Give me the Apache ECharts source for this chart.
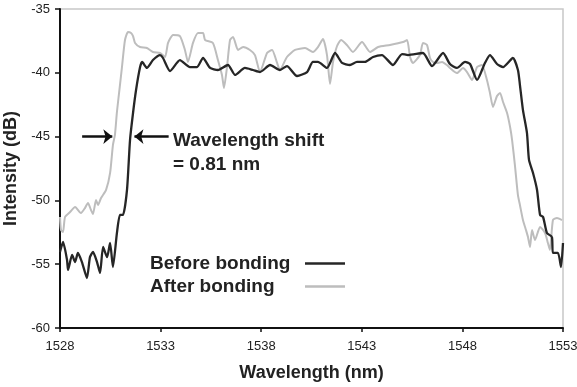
<!DOCTYPE html>
<html>
<head>
<meta charset="utf-8">
<script src="https://cdn.jsdelivr.net/npm/echarts@6/dist/echarts.min.js"></script>
<style>html,body{margin:0;padding:0;background:#fff}#c{width:577px;height:387px}</style>
</head>
<body>
<div id="c"></div>
<script>
// ---- data (wavelength in nm, intensity in dB) ----
const xStart = 1528;
const xTickLabels = ['1528', '1533', '1538', '1543', '1548', '1553'];
const yTickLabels = ['-60', '-55', '-50', '-45', '-40', '-35'];

const wlBefore = [1528.00,1528.15,1528.35,1528.40,1528.60,1528.75,1528.89,1529.09,1529.34,1529.49,1529.64,1529.84,1529.99,1530.14,1530.34,1530.49,1530.63,1530.83,1530.98,1531.13,1531.33,1531.48,1531.63,1531.78,1531.98,1532.08,1532.32,1532.62,1532.97,1533.12,1533.47,1533.96,1534.46,1534.81,1535.11,1535.46,1535.85,1536.35,1536.70,1537.19,1537.59,1537.94,1538.44,1538.93,1539.28,1539.78,1540.28,1540.57,1540.82,1541.27,1541.67,1542.02,1542.41,1542.76,1543.16,1543.56,1544.00,1544.55,1545.00,1545.30,1546.04,1546.49,1547.04,1547.38,1547.73,1548.13,1548.38,1548.73,1549.12,1549.37,1549.72,1550.02,1550.51,1550.76,1550.86,1551.01,1551.21,1551.31,1551.51,1551.71,1551.86,1552.01,1552.20,1552.45,1552.50,1552.75,1552.90,1553.00];
const dbBefore = [-54.04,-53.26,-54.67,-55.45,-54.28,-54.83,-54.12,-54.83,-56.08,-54.44,-54.04,-54.83,-55.69,-53.65,-54.44,-53.34,-55.22,-52.55,-51.14,-51.14,-49.18,-45.27,-43.15,-41.35,-39.55,-39.15,-39.62,-39.00,-38.61,-38.84,-39.86,-39.00,-39.55,-39.55,-38.84,-39.62,-39.78,-39.39,-40.17,-39.62,-39.78,-39.94,-39.39,-39.78,-39.47,-40.25,-39.94,-39.15,-39.15,-39.62,-38.45,-39.23,-39.39,-39.15,-39.15,-38.76,-38.61,-39.39,-38.53,-38.61,-38.45,-39.47,-38.45,-39.31,-39.62,-39.15,-39.31,-40.56,-39.23,-38.61,-39.31,-39.55,-38.84,-39.78,-40.96,-42.92,-44.72,-46.83,-47.85,-49.18,-51.14,-51.30,-52.55,-52.87,-54.12,-54.12,-55.22,-53.34];

const wlAfter = [1528.00,1528.05,1528.15,1528.25,1528.50,1528.75,1529.04,1529.24,1529.39,1529.54,1529.64,1529.79,1529.89,1530.04,1530.29,1530.49,1530.63,1530.73,1530.83,1530.98,1531.08,1531.23,1531.38,1531.53,1531.63,1531.73,1531.98,1532.32,1532.62,1532.97,1533.22,1533.37,1533.62,1533.96,1534.21,1534.36,1534.61,1534.86,1535.11,1535.21,1535.60,1535.85,1536.05,1536.15,1536.30,1536.45,1536.60,1536.85,1537.10,1537.44,1537.69,1537.94,1538.29,1538.54,1538.79,1538.93,1539.28,1539.68,1540.18,1540.57,1540.82,1541.07,1541.27,1541.42,1541.57,1541.77,1541.97,1542.26,1542.56,1543.01,1543.41,1543.81,1544.40,1545.05,1545.25,1545.40,1545.54,1545.89,1546.04,1546.24,1546.39,1546.54,1546.74,1546.99,1547.23,1547.38,1547.73,1548.03,1548.23,1548.48,1548.73,1548.97,1549.22,1549.37,1549.52,1549.72,1549.87,1550.02,1550.22,1550.37,1550.47,1550.61,1550.76,1550.86,1551.01,1551.16,1551.26,1551.36,1551.46,1551.61,1551.86,1552.11,1552.25,1552.35,1552.50,1552.70,1552.95];
const dbAfter = [-51.30,-52.32,-52.48,-51.30,-50.91,-50.52,-50.99,-50.60,-50.20,-50.75,-51.06,-49.97,-50.36,-49.81,-49.18,-47.85,-45.66,-44.87,-43.07,-40.96,-39.55,-37.43,-36.80,-36.88,-37.12,-37.66,-37.98,-38.06,-38.37,-38.45,-38.76,-37.66,-37.04,-37.12,-38.21,-39.15,-37.66,-36.88,-36.88,-37.43,-37.66,-39.00,-40.17,-41.19,-39.55,-37.43,-37.19,-38.21,-37.98,-38.21,-38.61,-39.94,-38.45,-38.21,-39.23,-39.78,-38.76,-38.21,-38.06,-38.37,-37.98,-37.35,-38.61,-40.88,-39.15,-37.90,-37.43,-37.82,-38.37,-37.59,-38.37,-37.98,-37.82,-37.59,-37.43,-38.76,-39.23,-38.61,-37.66,-37.82,-38.84,-39.15,-39.23,-39.15,-39.39,-39.62,-40.02,-39.62,-39.94,-40.56,-39.55,-39.39,-40.56,-41.58,-42.68,-41.82,-41.58,-42.29,-43.15,-44.25,-45.27,-47.23,-49.58,-50.36,-51.54,-52.32,-52.87,-53.65,-52.32,-53.10,-52.08,-52.55,-53.34,-53.89,-51.54,-51.38,-51.54];

// annotation arrows: [from, to] wavelength at a given intensity
const arrowLevel = -45;
const arrowLeft = [1529.1, 1530.6];
const arrowRight = [1533.4, 1531.7];
const annotationText = ['Wavelength shift', '= 0.81 nm'];

// ---- build ----
const off = w => +(w - xStart).toFixed(4);
const pairs = (wl, db) => wl.map((w, i) => [off(w), db[i]]);

const chart = echarts.init(document.getElementById('c'));
const FONT = '"Liberation Sans", Arial, sans-serif';

chart.setOption({
  animation: false,
  backgroundColor: '#fff',
  grid: { left: 60, right: 14, top: 9, bottom: 59, containLabel: false, outerBoundsMode: 'none',
    show: true, borderColor: '#c8c8c8', borderWidth: 1.5 },
  xAxis: {
    type: 'value', min: 0, max: 25, interval: 5,
    name: 'Wavelength (nm)', nameLocation: 'middle', nameGap: 36,
    nameTextStyle: { fontFamily: FONT, fontSize: 18, fontWeight: 'bold', color: '#222' },
    axisLine: { lineStyle: { color: '#111', width: 2 } },
    axisTick: { length: 4, lineStyle: { color: '#111', width: 1.5 } },
    axisLabel: { margin: 12, fontFamily: FONT, fontSize: 13, color: '#222',
      formatter: v => xTickLabels[Math.round(v / 5)] },
    splitLine: { show: false }
  },
  yAxis: {
    type: 'value', min: -60, max: -35, interval: 5,
    name: 'Intensity (dB)', nameLocation: 'middle', nameGap: 31,
    nameTextStyle: { fontFamily: FONT, fontSize: 18, fontWeight: 'bold', color: '#222' },
    axisLine: { lineStyle: { color: '#111', width: 2 } },
    axisTick: { length: 5, lineStyle: { color: '#111', width: 1.5 } },
    axisLabel: { margin: 10, fontFamily: FONT, fontSize: 13, color: '#222',
      formatter: v => yTickLabels[Math.round((v + 60) / 5)] },
    splitLine: { show: false }
  },
  legend: {
    data: ['Before bonding', 'After bonding'],
    orient: 'vertical', left: 145, top: 249, align: 'right',
    icon: 'rect', itemWidth: 40, itemHeight: 2.5, itemGap: 4,
    formatter: name => '{t|' + name + '}',
    textStyle: { fontFamily: FONT, fontSize: 19, fontWeight: 'bold', color: '#222',
      rich: { t: { width: 150, align: 'left', fontFamily: FONT, fontSize: 19, fontWeight: 'bold', color: '#222', height: 20 } } }
  },
  series: [
    {
      name: 'After bonding', type: 'line', data: pairs(wlAfter, dbAfter),
      symbol: 'none', smooth: 0.2,
      lineStyle: { color: '#bdbdbd', width: 2 }, itemStyle: { color: '#bdbdbd' }
    },
    {
      name: 'Before bonding', type: 'line', data: pairs(wlBefore, dbBefore),
      symbol: 'none', smooth: 0.2,
      lineStyle: { color: '#262626', width: 2.3 }, itemStyle: { color: '#262626' },
      markLine: {
        silent: true, symbol: ['none', 'arrow'], symbolSize: [11, 9],
        label: { show: false },
        lineStyle: { color: '#111', width: 2.5, type: 'solid' },
        data: [
          [{ coord: [off(arrowLeft[0]), arrowLevel] }, { coord: [off(arrowLeft[1]), arrowLevel] }],
          [{ coord: [off(arrowRight[0]), arrowLevel] }, { coord: [off(arrowRight[1]), arrowLevel] }]
        ]
      }
    }
  ],
  graphic: [{
    type: 'text', left: 173, top: 129,
    style: { text: annotationText.join('\n'), fontFamily: FONT, fontSize: 19, fontWeight: 'bold',
      fill: '#222', lineHeight: 24 }
  }]
});
</script>
</body>
</html>
